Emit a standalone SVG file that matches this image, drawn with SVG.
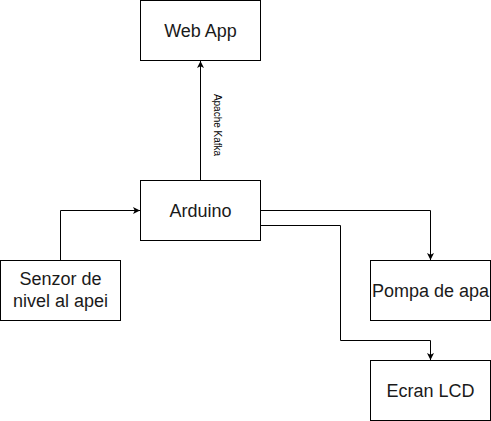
<svg xmlns="http://www.w3.org/2000/svg" width="491" height="421" viewBox="0 0 491 421">
<style>
.box{fill:#ffffff;stroke:#000000;stroke-width:1}
.lbl{font-family:"Liberation Sans",Arial,sans-serif;font-size:18px;fill:#1a1a1a;text-anchor:middle}
.edge{fill:none;stroke:#000000;stroke-width:1}
.elbl{font-family:"Liberation Sans",Arial,sans-serif;font-size:10px;fill:#000000;text-anchor:middle}
</style>
<defs>
<marker id="arr" viewBox="0 0 10 10" refX="10" refY="5" markerWidth="7" markerHeight="7" markerUnits="userSpaceOnUse" orient="auto">
<path d="M0,0 L10,5 L0,10 L2.5,5 Z" fill="#000000"/>
</marker>
</defs>
<rect width="491" height="421" fill="#ffffff"/>
<g id="connectors">
<path class="edge" d="M200.5,180.5 L200.5,61" marker-end="url(#arr)"/>
<text class="elbl" transform="translate(217,125) rotate(90)" dominant-baseline="central">Apache Kafka</text>
<path class="edge" d="M60.5,260.5 L60.5,210.5 L140,210.5" marker-end="url(#arr)"/>
<path class="edge" d="M260.5,210.5 L430.5,210.5 L430.5,260" marker-end="url(#arr)"/>
<path class="edge" d="M260.5,225.5 L340.5,225.5 L340.5,340.5 L430.5,340.5 L430.5,360" marker-end="url(#arr)"/>
</g>
<g id="webapp">
<rect class="box" x="140.5" y="0.5" width="120" height="60"/>
<text class="lbl" x="200.5" y="36.5">Web App</text>
</g>
<g id="arduino">
<rect class="box" x="140.5" y="180.5" width="120" height="60"/>
<text class="lbl" x="200.5" y="216.5">Arduino</text>
</g>
<g id="senzor">
<rect class="box" x="0.5" y="260.5" width="120" height="60"/>
<text class="lbl" x="60.5" y="285">Senzor de</text>
<text class="lbl" x="60.5" y="307">nivel al apei</text>
</g>
<g id="pompa">
<rect class="box" x="370.5" y="260.5" width="120" height="60"/>
<text class="lbl" x="430.5" y="296.5">Pompa de apa</text>
</g>
<g id="ecran">
<rect class="box" x="370.5" y="360.5" width="120" height="60"/>
<text class="lbl" x="430.5" y="396.5">Ecran LCD</text>
</g>
</svg>
